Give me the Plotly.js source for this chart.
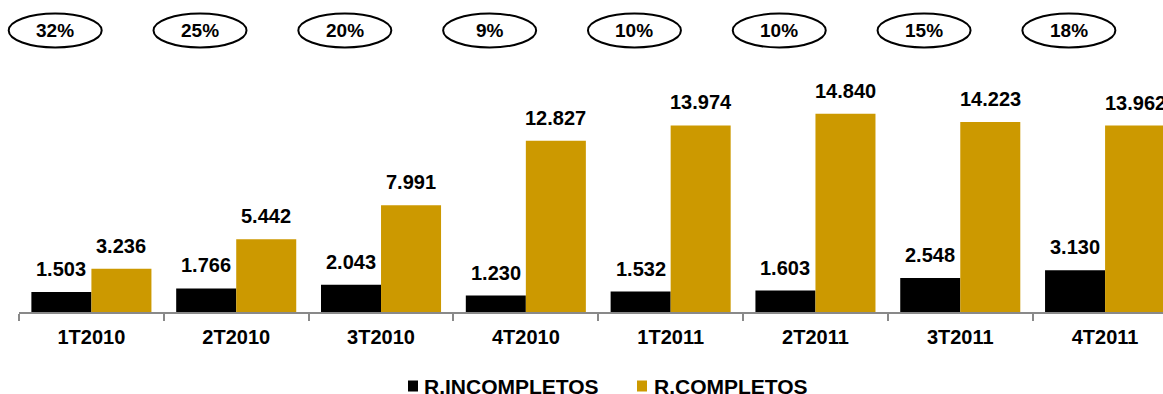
<!DOCTYPE html>
<html>
<head>
<meta charset="utf-8">
<script src="https://cdn.plot.ly/plotly-3.0.1.min.js"></script>
<style>html,body{margin:0;padding:0;background:#fff;}#chart{width:1163px;height:394px;}</style>
</head>
<body>
<div id="chart"></div>
<script>
var categories = ["1T2010","2T2010","3T2010","4T2010","1T2011","2T2011","3T2011","4T2011"];
var incompletos = [1503, 1766, 2043, 1230, 1532, 1603, 2548, 3130];
var completos = [3236, 5442, 7991, 12827, 13974, 14840, 14223, 13962];
var percentLabels = ["32%","25%","20%","9%","10%","10%","15%","18%"];
var seriesNames = ["R.INCOMPLETOS", "R.COMPLETOS"];
var seriesColors = ["#000000", "#CC9900"];

var FONT = '"Liberation Sans", Arial, sans-serif';
var BARGAP = 0.171;
var XRANGE = [-0.5, 7.40];
var MARGIN = {l:19, r:0, t:71, b:82};
var PLOT_W = 1163 - MARGIN.l - MARGIN.r;
var PLOT_H = 394 - MARGIN.t - MARGIN.b;

function fmt(v){ return v.toString().replace(/\B(?=(\d{3})+(?!\d))/g, '.'); }
function toPaper(xv){ return (xv - XRANGE[0]) / (XRANGE[1] - XRANGE[0]); }
function pxX(px){ return (px - MARGIN.l) / PLOT_W; }
function pxY(py){ return (394 - MARGIN.b - py) / PLOT_H; }

var traces = [
  {type:'bar', name:seriesNames[0], x:categories, y:incompletos, marker:{color:seriesColors[0]}, hoverinfo:'x+y'},
  {type:'bar', name:seriesNames[1], x:categories, y:completos, marker:{color:seriesColors[1]}, hoverinfo:'x+y'}
];

var half = (1 - BARGAP) / 4;
var annotations = [];
var shapes = [];
categories.forEach(function(c, i){
  annotations.push({xref:'x', yref:'y', x:i - half, y:incompletos[i], text:fmt(incompletos[i]), showarrow:false,
    yanchor:'bottom', yshift:10, font:{family:FONT, size:20, color:'#000', weight:'bold'}});
  annotations.push({xref:'x', yref:'y', x:i + half, y:completos[i], text:fmt(completos[i]), showarrow:false,
    yanchor:'bottom', yshift:10, font:{family:FONT, size:20, color:'#000', weight:'bold'}});
  annotations.push({xref:'paper', yref:'paper', x:toPaper(i - 0.25), y:1.168, text:percentLabels[i], showarrow:false,
    xanchor:'center', yanchor:'middle', font:{family:FONT, size:19, color:'#000', weight:'bold'}});
  shapes.push({type:'circle', xref:'paper', yref:'paper', xsizemode:'pixel', ysizemode:'pixel',
    xanchor:toPaper(i - 0.25), yanchor:1.168, x0:-46.5, x1:46.5, y0:-17, y1:17,
    line:{color:'#000', width:2}, fillcolor:'rgba(0,0,0,0)'});
});

// legend (drawn manually to match the reference's compact spacing)
var legendSymbolX = [413, 642];
var legendTextX = [423, 653];
var legendY = 386;
seriesNames.forEach(function(n, k){
  shapes.push({type:'rect', xref:'paper', yref:'paper', xsizemode:'pixel', ysizemode:'pixel',
    xanchor:pxX(legendSymbolX[k]), yanchor:pxY(legendY), x0:-5, x1:5, y0:-5.5, y1:5.5,
    line:{width:0}, fillcolor:seriesColors[k]});
  annotations.push({xref:'paper', yref:'paper', x:pxX(legendTextX[k]), y:pxY(legendY), text:n, showarrow:false,
    xanchor:'left', yanchor:'middle', borderpad:0,
    font:{family:FONT, size:21, color:'#000', weight:'bold'}});
});

var layout = {
  width:1163, height:394,
  margin:{l:MARGIN.l, r:MARGIN.r, t:MARGIN.t, b:MARGIN.b, autoexpand:false},
  paper_bgcolor:'#fff', plot_bgcolor:'#fff',
  barmode:'group', bargap:BARGAP, bargroupgap:0,
  font:{family:FONT, size:20, color:'#000'},
  xaxis:{type:'category', range:XRANGE, showline:true, linecolor:'#898989', linewidth:2,
    ticks:'outside', tickson:'boundaries', ticklen:7, tickwidth:2, tickcolor:'#898989',
    ticklabelstandoff:6,
    showgrid:false, zeroline:false, fixedrange:true, automargin:false,
    tickfont:{family:FONT, size:20, color:'#000', weight:'bold'}},
  yaxis:{visible:false, range:[0, 18050], showgrid:false, zeroline:false, fixedrange:true},
  showlegend:false,
  annotations:annotations,
  shapes:shapes
};

Plotly.newPlot('chart', traces, layout, {displayModeBar:false, staticPlot:true});
</script>
</body>
</html>
